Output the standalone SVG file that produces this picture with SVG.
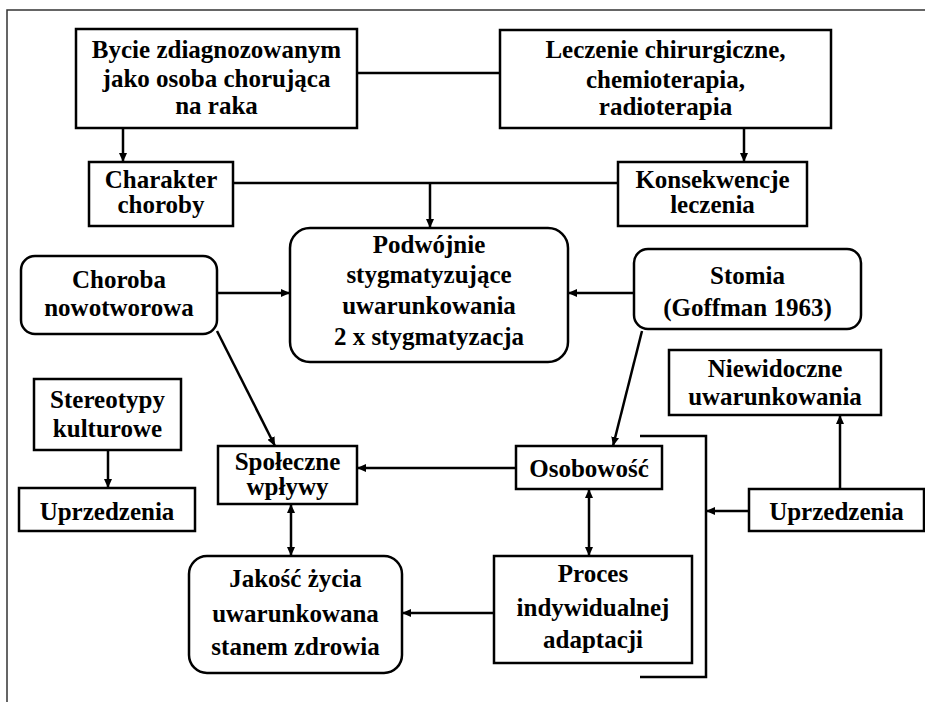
<svg xmlns="http://www.w3.org/2000/svg" width="925" height="702" viewBox="0 0 925 702">
<style>
.b{fill:#fff;stroke:#000;stroke-width:2.5}
.t{font-family:"Liberation Serif","Times New Roman",serif;font-weight:bold;font-size:25px;fill:#000;text-anchor:middle}
.c{fill:none;stroke:#000;stroke-width:2.5}
.a{marker-end:url(#ah)}
.d{marker-start:url(#as);marker-end:url(#ah)}
.f{fill:none;stroke:#333;stroke-width:1.5}
</style>
<defs>
<marker id="ah" markerUnits="userSpaceOnUse" markerWidth="10" markerHeight="8" refX="9" refY="4" orient="auto"><path d="M0,0 L9,4 L0,8 Z" fill="#000"/></marker>
<marker id="as" markerUnits="userSpaceOnUse" markerWidth="10" markerHeight="8" refX="0" refY="4" orient="auto"><path d="M9,0 L0,4 L9,8 Z" fill="#000"/></marker>
</defs>
<rect width="925" height="702" fill="#fff"/>
<g id="frame"><path class="f" d="M7,702 L7,10 L925,10"/></g>
<g id="connectors">
<path class="c" d="M357,73 L500,73"/>
<path class="c a" d="M123,128 L123,162"/>
<path class="c a" d="M744,128 L744,162"/>
<path class="c" d="M233,183 L618,183"/>
<path class="c a" d="M430,183 L430,228"/>
<path class="c a" d="M217,293 L290,293"/>
<path class="c a" d="M634,293 L568,293"/>
<path class="c a" d="M217,331 L275,446"/>
<path class="c a" d="M642,331 L613,446"/>
<path class="c a" d="M108,450 L108,488"/>
<path class="c a" d="M516,468 L357,468"/>
<path class="c" d="M640,436 L706,436 L706,677 L640,677"/>
<path class="c a" d="M749,511 L706,511"/>
<path class="c a" d="M840,489 L840,415"/>
<path class="c d" d="M589,489 L589,556"/>
<path class="c d" d="M291,504 L291,556"/>
<path class="c a" d="M494,613 L402,613"/>
</g>
<g id="n1"><rect class="b" x="76" y="29" width="281" height="99"/>
<text class="t" x="216.5" y="58">Bycie zdiagnozowanym</text><text class="t" x="216.5" y="87">jako osoba chorująca</text><text class="t" x="216.5" y="114">na raka</text></g>
<g id="n2"><rect class="b" x="500" y="30" width="331" height="98"/>
<text class="t" x="665.5" y="58">Leczenie chirurgiczne,</text><text class="t" x="665.5" y="88">chemioterapia,</text><text class="t" x="665.5" y="115">radioterapia</text></g>
<g id="n3"><rect class="b" x="89" y="162" width="144" height="64"/>
<text class="t" x="161" y="188">Charakter</text><text class="t" x="161" y="213">choroby</text></g>
<g id="n4"><rect class="b" x="618" y="162" width="189" height="64"/>
<text class="t" x="712.5" y="188">Konsekwencje</text><text class="t" x="712.5" y="213">leczenia</text></g>
<g id="n5"><rect class="b" x="290" y="228" width="278" height="134" rx="20"/>
<text class="t" x="429" y="253">Podwójnie</text><text class="t" x="429" y="283">stygmatyzujące</text><text class="t" x="429" y="314">uwarunkowania</text><text class="t" x="429" y="345">2 x stygmatyzacja</text></g>
<g id="n6"><rect class="b" x="21" y="256" width="196" height="78" rx="14"/>
<text class="t" x="119" y="288">Choroba</text><text class="t" x="119" y="316">nowotworowa</text></g>
<g id="n7"><rect class="b" x="634" y="249" width="227" height="80" rx="14"/>
<text class="t" x="747.5" y="284">Stomia</text><text class="t" x="747.5" y="316">(Goffman 1963)</text></g>
<g id="n8"><rect class="b" x="669" y="350" width="212" height="65"/>
<text class="t" x="775" y="377">Niewidoczne</text><text class="t" x="775" y="405">uwarunkowania</text></g>
<g id="n9"><rect class="b" x="34" y="379" width="147" height="71"/>
<text class="t" x="107.5" y="408">Stereotypy</text><text class="t" x="107.5" y="437">kulturowe</text></g>
<g id="n10"><rect class="b" x="19" y="488" width="176" height="43"/>
<text class="t" x="107" y="520">Uprzedzenia</text></g>
<g id="n11"><rect class="b" x="218" y="446" width="139" height="58"/>
<text class="t" x="287.5" y="470">Społeczne</text><text class="t" x="287.5" y="495">wpływy</text></g>
<g id="n12"><rect class="b" x="516" y="446" width="146" height="43"/>
<text class="t" x="589" y="477">Osobowość</text></g>
<g id="n13"><rect class="b" x="749" y="489" width="175" height="42"/>
<text class="t" x="836.5" y="520">Uprzedzenia</text></g>
<g id="n14"><rect class="b" x="494" y="556" width="198" height="107"/>
<text class="t" x="593" y="582">Proces</text><text class="t" x="593" y="616">indywidualnej</text><text class="t" x="593" y="648">adaptacji</text></g>
<g id="n15"><rect class="b" x="189" y="556" width="213" height="117" rx="18"/>
<text class="t" x="295.5" y="587">Jakość życia</text><text class="t" x="295.5" y="622">uwarunkowana</text><text class="t" x="295.5" y="655">stanem zdrowia</text></g>
</svg>
